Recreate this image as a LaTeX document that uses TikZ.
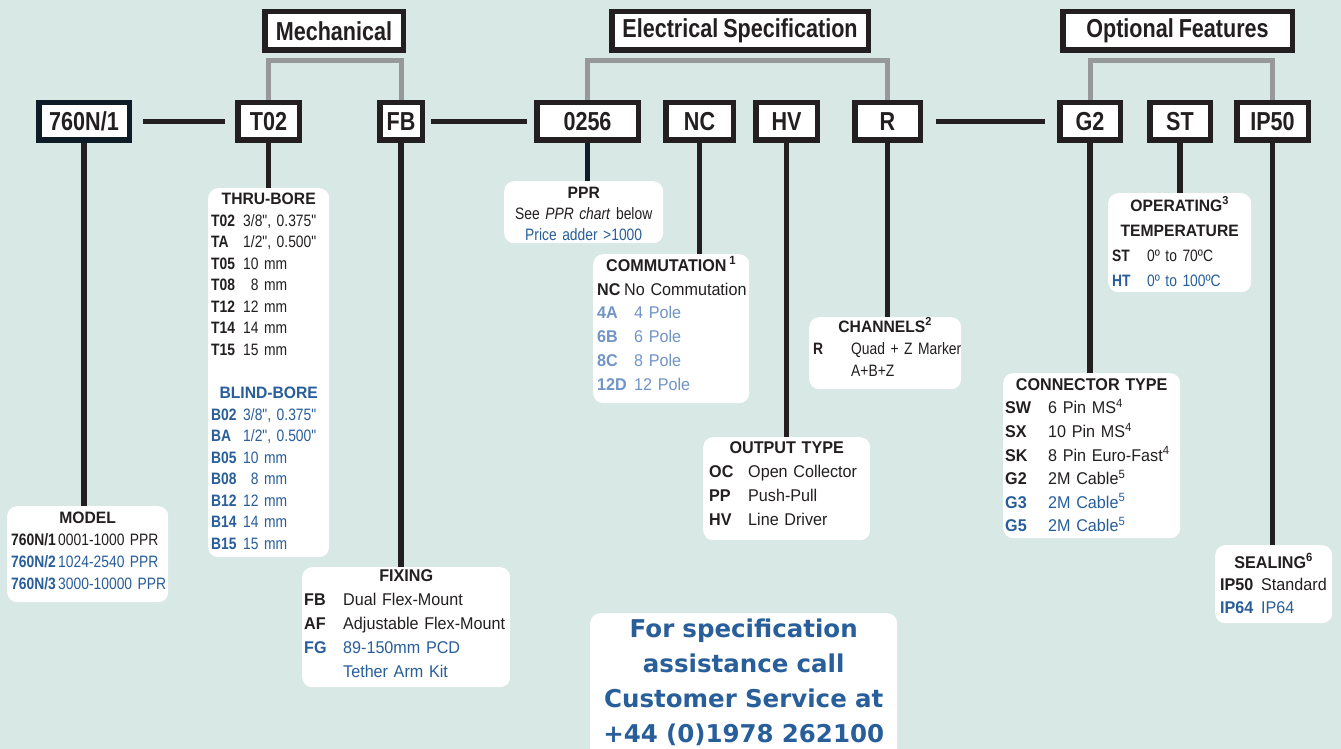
\documentclass[tikz,border=0pt]{standalone}
\usepackage{fontspec}
\setmainfont{Liberation Sans}
\newfontfamily\labelfont[FakeStretch=0.83, WordSpace=0.83]{Liberation Sans}
\newfontfamily\narrowfont[FakeStretch=0.84, WordSpace=0.65]{Liberation Sans}
\newfontfamily\plainfont[FakeStretch=0.95, WordSpace=0.9]{Liberation Sans}
\newfontfamily\callfont{DejaVu Sans}
\usetikzlibrary{backgrounds}

\definecolor{bgcol}{RGB}{216,232,228}
\definecolor{ink}{RGB}{35,31,32}
\definecolor{navy}{RGB}{14,28,40}
\definecolor{codeblue}{RGB}{40,94,153}
\definecolor{paleblue}{RGB}{112,149,198}
\definecolor{bracketgrey}{RGB}{150,152,154}

% gaps above the first and below the last line of a box
\newcommand\tgap[1]{\rule{0pt}{#1pt}}
\newcommand\bgap[1]{\rule[-#1pt]{0pt}{#1pt}}
\newcommand\boxhead[1]{\leavevmode\null\hfill{\plainfont\bfseries #1}\hfill\null}
\newcommand\optrow[4]{\leavevmode{\color{#1}\makebox[#2pt][l]{\bfseries #3}\mbox{#4}}}

\tikzset{
  codebox/.style={draw=ink, line width=5.5pt, fill=white, inner sep=0pt,
    minimum height=37.5pt, text=ink, font=\labelfont\bfseries\fontsize{26}{28}\selectfont},
  groupbox/.style={codebox, minimum height=38.5pt},
  link/.style={draw=ink, line width=5.5pt},
  bracket/.style={draw=bracketgrey, line width=5pt},
  infobox/.style={fill=white, rounded corners=10pt, inner ysep=0pt,
    anchor=north west, align=left, text=ink},
  infoA/.style={infobox, font=\narrowfont\fontsize{16.5}{#1}\selectfont},
  infoB/.style={infobox, font=\plainfont\fontsize{17}{#1}\selectfont},
  callbox/.style={fill=white, rounded corners=10pt, inner ysep=0pt, inner xsep=4pt,
    anchor=north west, align=center, text=codeblue,
    font=\callfont\bfseries\fontsize{24.5}{35}\selectfont},
}

\begin{document}
\begin{tikzpicture}[x=1pt, y=-1pt]
  \useasboundingbox (0,0) rectangle (1341,749);
  \clip (0,0) rectangle (1341,749);

  % group headings
  \node[groupbox, minimum width=138.5pt] (mech) at (334,31) {Mechanical};
  \node[groupbox, minimum width=256.5pt] (elec) at (740,31) {Electrical Specification};
  \node[groupbox, minimum width=229.5pt] (opt) at (1177.5,31) {Optional Features};

  % ordering code
  \node[codebox, draw=navy, minimum width=90.5pt] (m760) at (84,121.5) {760N/1};
  \node[codebox, minimum width=61.5pt] (t02) at (268.5,121.5) {T02};
  \node[codebox, minimum width=42.5pt] (fb) at (401,121.5) {FB};
  \node[codebox, minimum width=101.5pt] (n0256) at (587.5,121.5) {0256};
  \node[codebox, minimum width=67.5pt] (nc) at (699.5,121.5) {NC};
  \node[codebox, minimum width=61.5pt] (hv) at (786.5,121.5) {HV};
  \node[codebox, minimum width=65.5pt] (r) at (887.5,121.5) {R};
  \node[codebox, minimum width=60.5pt] (g2) at (1090,121.5) {G2};
  \node[codebox, minimum width=60.5pt] (st) at (1180,121.5) {ST};
  \node[codebox, minimum width=71.5pt] (ip50) at (1272.5,121.5) {IP50};

  % option boxes
  \node[infoA=22, inner xsep=4pt, text width=153pt] (model) at (7,506)
    {\boxhead{\tgap{17}MODEL}\\
     \optrow{ink}{47}{760N/1}{0001-1000 PPR}\\
     \optrow{codeblue}{47}{760N/2}{1024-2540 PPR}\\
     \optrow{codeblue}{47}{760N/3}{3000-10000 PPR\bgap{13}}};

  \node[infoA=21.53, inner xsep=3pt, text width=115pt] (thru) at (208,188)
    {\boxhead{\tgap{16.5}THRU-BORE}\\
     \optrow{ink}{32}{T02}{3/8", 0.375"}\\
     \optrow{ink}{32}{TA}{1/2", 0.500"}\\
     \optrow{ink}{32}{T05}{10 mm}\\
     \optrow{ink}{32}{T08}{\phantom{1}8 mm}\\
     \optrow{ink}{32}{T12}{12 mm}\\
     \optrow{ink}{32}{T14}{14 mm}\\
     \optrow{ink}{32}{T15}{15 mm}\\[21.53pt]
     \boxhead{\color{codeblue}BLIND-BORE}\\
     \optrow{codeblue}{32}{B02}{3/8", 0.375"}\\
     \optrow{codeblue}{32}{BA}{1/2", 0.500"}\\
     \optrow{codeblue}{32}{B05}{10 mm}\\
     \optrow{codeblue}{32}{B08}{\phantom{1}8 mm}\\
     \optrow{codeblue}{32}{B12}{12 mm}\\
     \optrow{codeblue}{32}{B14}{14 mm}\\
     \optrow{codeblue}{32}{B15}{15 mm\bgap{8}}};

  \node[infoB=24, inner xsep=2pt, text width=204pt] (fixing) at (302,567)
    {\boxhead{\tgap{14}FIXING}\\
     \optrow{ink}{39}{FB}{Dual Flex-Mount}\\
     \optrow{ink}{39}{AF}{Adjustable Flex-Mount}\\
     \optrow{codeblue}{39}{FG}{89-150mm PCD}\\
     \optrow{codeblue}{39}{}{Tether Arm Kit\bgap{10}}};

  \node[infoA=21, inner xsep=4pt, text width=151pt, align=center] (pprinfo) at (504,181)
    {\tgap{17}{\plainfont\bfseries PPR}\\
     See \textit{PPR chart} below\\
     \textcolor{codeblue}{Price adder >1000}\bgap{3}};

  \node[infoB=23.8, inner xsep=4pt, text width=148pt] (comm) at (593,254)
    {\boxhead{\tgap{17}COMMUTATION\,\textsuperscript{1}}\\
     \optrow{ink}{27}{NC}{No Commutation}\\
     \optrow{paleblue}{37}{4A}{4 Pole}\\
     \optrow{paleblue}{37}{6B}{6 Pole}\\
     \optrow{paleblue}{37}{8C}{8 Pole}\\
     \optrow{paleblue}{37}{12D}{12 Pole\bgap{13}}};

  \node[infoB=24, inner xsep=6pt, text width=155pt] (output) at (703,437)
    {\boxhead{\tgap{16}OUTPUT TYPE}\\
     \optrow{ink}{39}{OC}{Open Collector}\\
     \optrow{ink}{39}{PP}{Push-Pull}\\
     \optrow{ink}{39}{HV}{Line Driver\bgap{15}}};

  \node[infoA=22, inner xsep=4pt, text width=144pt] (channels) at (809,317)
    {\boxhead{\tgap{15}CHANNELS\textsuperscript{2}}\\
     \optrow{ink}{38}{R}{Quad + Z Marker}\\
     \optrow{ink}{38}{}{A+B+Z\bgap{13}}};

  \node[infoA=25, inner xsep=4pt, text width=135pt] (temp) at (1108,193)
    {\boxhead{\tgap{18}OPERATING\textsuperscript{3}}\\
     \boxhead{TEMPERATURE}\\
     \optrow{ink}{35}{ST}{0º to 70ºC}\\
     \optrow{codeblue}{35}{HT}{0º to 100ºC\bgap{6}}};

  \node[infoB=23.6, inner xsep=2pt, text width=173pt] (connector) at (1003,373)
    {\boxhead{\tgap{17}CONNECTOR TYPE}\\
     \optrow{ink}{43}{SW}{6 Pin MS\textsuperscript{4}}\\
     \optrow{ink}{43}{SX}{10 Pin MS\textsuperscript{4}}\\
     \optrow{ink}{43}{SK}{8 Pin Euro-Fast\textsuperscript{4}}\\
     \optrow{ink}{43}{G2}{2M Cable\textsuperscript{5}}\\
     \optrow{codeblue}{43}{G3}{2M Cable\textsuperscript{5}}\\
     \optrow{codeblue}{43}{G5}{2M Cable\textsuperscript{5}\bgap{6.4}}};

  \node[infoB=22.5, inner xsep=5pt, text width=107pt] (sealing) at (1215,545)
    {\boxhead{\tgap{23}SEALING\textsuperscript{6}}\\
     \optrow{ink}{41}{IP50}{Standard}\\
     \optrow{codeblue}{41}{IP64}{IP64\bgap{10}}};

  \node[callbox, text width=299pt] (call) at (590,613)
    {\tgap{24}For specification\\
     assistance call\\
     Customer Service at\\
     +44 (0)1978 262100\bgap{30}};

  \begin{scope}[on background layer]
    \fill[bgcol] (0,0) rectangle (1341,749);
    \draw[bracket] (t02.north) |- ([yshift=-7.25pt]mech.south) -| (fb.north);
    \draw[bracket] (n0256.north) |- ([yshift=-7.25pt]elec.south) -| (r.north);
    \draw[bracket] (g2.north) |- ([yshift=-7.25pt]opt.south) -| (ip50.north);
    \draw[link, shorten <=10.75pt, shorten >=9.75pt] (m760) -- (t02);
    \draw[link, shorten <=5.75pt, shorten >=6.75pt] (fb) -- (n0256);
    \draw[link, shorten <=12.75pt, shorten >=11.75pt] (r) -- (g2);
    \draw[link] (m760.south) -- (m760.south |- model.north);
    \draw[link] (t02.south) -- (t02.south |- thru.north);
    \draw[link] (fb.south) -- (fb.south |- fixing.north);
    \draw[link, draw=navy] (n0256.south) -- (n0256.south |- pprinfo.north);
    \draw[link] (nc.south) -- (nc.south |- comm.north);
    \draw[link] (hv.south) -- (hv.south |- output.north);
    \draw[link] (r.south) -- (r.south |- channels.north);
    \draw[link] (g2.south) -- (g2.south |- connector.north);
    \draw[link] (st.south) -- (st.south |- temp.north);
    \draw[link] (ip50.south) -- (ip50.south |- sealing.north);
  \end{scope}
\end{tikzpicture}
\end{document}
